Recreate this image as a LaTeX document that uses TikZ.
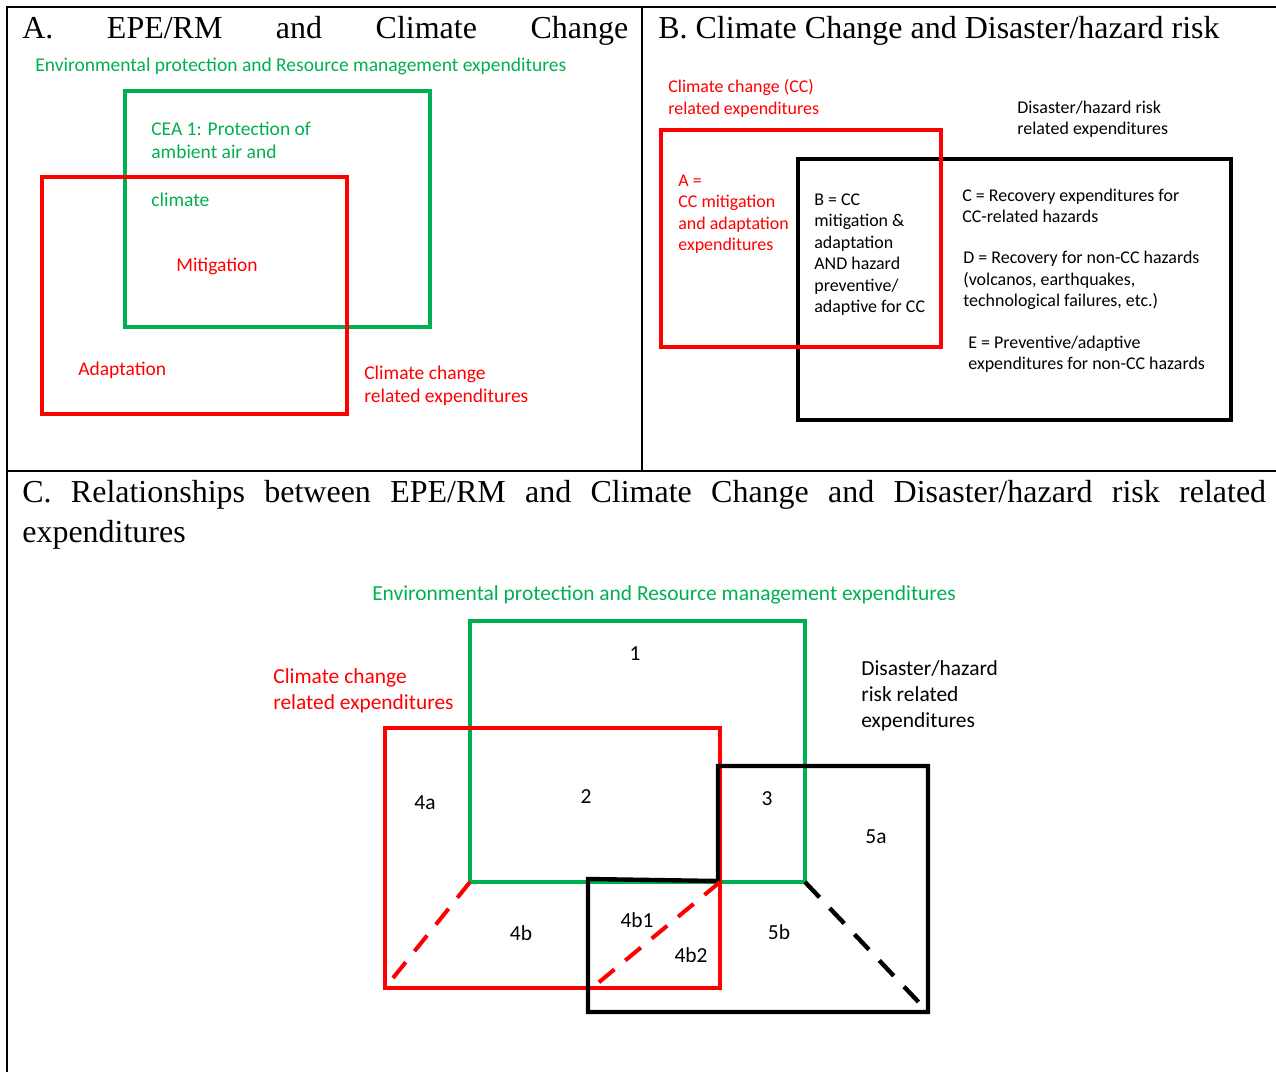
\documentclass[tikz,border=0pt]{standalone}
\usepackage{fontspec}
\setmainfont{Liberation Serif}
\newfontfamily\labelfont{Carlito}
\usetikzlibrary{positioning}

\definecolor{epegreen}{RGB}{0,176,80}
\definecolor{ccred}{RGB}{255,0,0}

\begin{document}
\begin{tikzpicture}[
    x=0.02cm, y=-0.02cm,
    title/.style={anchor=base west, inner sep=0, align=left, font=\fontsize{18.2}{22.5}\selectfont},
    lblA/.style={anchor=west, inner sep=0, align=left, font=\labelfont\fontsize{11.1}{13.1}\selectfont},
    lblB/.style={anchor=west, inner sep=0, align=left, font=\labelfont\fontsize{10.2}{12.2}\selectfont},
    lblC/.style={anchor=west, inner sep=0, align=left, font=\labelfont\fontsize{12.2}{14.8}\selectfont},
    num/.style={inner sep=0, font=\labelfont\fontsize{12.2}{14.8}\selectfont},
    frame/.style={line width=1.2pt},
    greenbox/.style={draw=epegreen, line width=2.3pt},
    redbox/.style={draw=ccred, line width=2.3pt},
    blackbox/.style={draw=black, line width=2.5pt},
    reddash/.style={draw=ccred, line width=2.3pt, dash pattern=on 11.5pt off 8pt},
    blackdash/.style={draw=black, line width=2.5pt, dash pattern=on 12pt off 8.5pt}
]
\useasboundingbox (0,0) rectangle (1276,1072);

% Table frame
\draw[frame] (7,1072) -- (7,7) -- (1276,7);
\draw[frame] (642,7) -- (642,471);
\draw[frame] (7,471) -- (1276,471);

% Panel A
\node[title] (titleA) at (22,38) {\makebox[12.12cm][s]{A. EPE/RM and Climate Change}};
\node[lblA, text=epegreen] (epeA) at (35,66) {Environmental protection and Resource management expenditures};
\draw[greenbox] (125,91) rectangle (430,327);
\draw[redbox] (42,177) rectangle (347,414);
\node[lblA, text=epegreen] (cea) at (151,164) {CEA 1: Protection of\\ambient air and\\[14.2pt]climate};
\node[lblA, text=ccred] (mitig) at (176,266) {Mitigation};
\node[lblA, text=ccred] (adapt) at (78,370) {Adaptation};
\node[lblA, text=ccred] (ccA) at (364,386) {Climate change\\related expenditures};

% Panel B
\node[title] (titleB) at (658,38) {B. Climate Change and Disaster/hazard risk};
\node[lblB, text=ccred] (ccB) at (668,98.5) {Climate change (CC)\\related expenditures};
\node[lblB] (drrB) at (1017,119.5) {Disaster/hazard risk\\related expenditures};
\draw[blackbox] (798,159) rectangle (1231,420);
\draw[redbox] (661,130) rectangle (941,347);
\node[lblB, text=ccred] (areaA) at (678,214) {A =\\CC mitigation\\and adaptation\\expenditures};
\node[lblB] (areaB) at (814,254.5) {B = CC\\mitigation \&\\adaptation\\AND hazard\\preventive/\\adaptive for CC};
\node[lblB] (areaC) at (962,206) {C = Recovery expenditures for\\CC-related hazards};
\node[lblB] (areaD) at (963,280.5) {D = Recovery for non-CC hazards\\(volcanos, earthquakes,\\technological failures, etc.)};
\node[lblB] (areaE) at (968,354) {E = Preventive/adaptive\\expenditures for non-CC hazards};

% Panel C
\node[title] (titleC) at (22,542) {\makebox[24.88cm][s]{C. Relationships between EPE/RM and Climate Change and Disaster/hazard risk related}\\expenditures};
\node[lblC, anchor=center, text=epegreen] (epeC) at (664,595) {Environmental protection and Resource management expenditures};
\node[lblC, text=ccred] (ccC) at (273,691) {Climate change\\related expenditures};
\node[lblC] (drrC) at (861,696) {Disaster/hazard\\risk related\\expenditures};

% Corners of the sets
\coordinate (epe-sw) at (470,882);
\coordinate (epe-se) at (805,882);
\coordinate (cc-sw) at (385,988);
\coordinate (cc-se) at (720,882);
\coordinate (cc-cut) at (592,988);
\coordinate (drr-se) at (928,1012);

\draw[greenbox] (470,621) rectangle (805,882);
\draw[redbox] (385,728) rectangle (720,988);
\draw[blackbox] (718,766) -- (928,766) -- (928,1012) -- (588,1012) -- (588,879) -- (718,881) -- cycle;

% Split lines
\draw[reddash] (epe-sw) -- (cc-sw);
\draw[reddash] (cc-se) -- (cc-cut);
\draw[blackdash] (epe-se) -- (drr-se);

% Area numbers
\node[num] (n1) at (635,654) {1};
\node[num] (n2) at (586,797) {2};
\node[num] (n3) at (767,799) {3};
\node[num] (n4a) at (425,803) {4a};
\node[num] (n5a) at (876,837) {5a};
\node[num] (n4b) at (521,933) {4b};
\node[num] (n4b1) at (637,920) {4b1};
\node[num] (n4b2) at (691,955) {4b2};
\node[num] (n5b) at (779,932) {5b};

\end{tikzpicture}
\end{document}
